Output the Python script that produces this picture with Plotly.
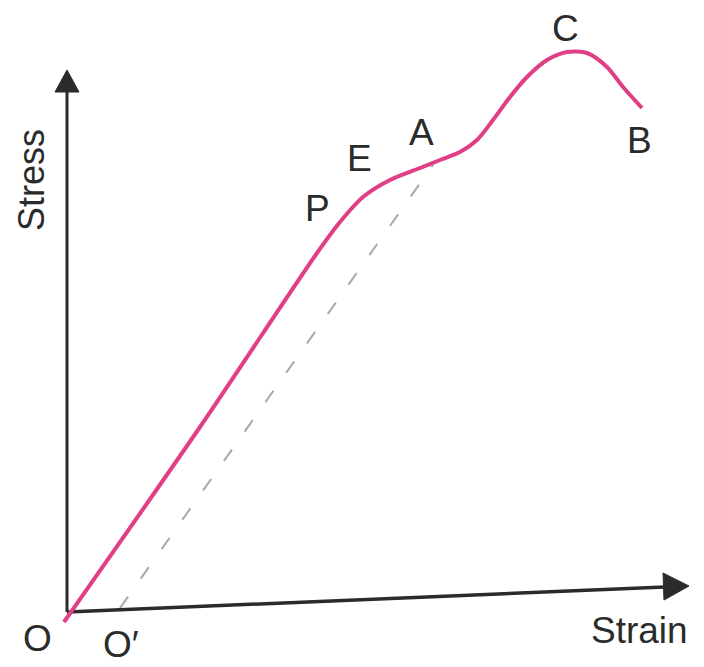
import plotly.graph_objects as go

# Stress-strain curve (arbitrary units, origin at O)
strain = [-3, 133, 250, 273, 296, 323, 353, 373, 393, 410, 426, 443, 460, 480, 500, 520, 540, 556, 575]
stress = [-10, 185, 359, 390, 415, 432, 444, 452, 460, 472, 492, 515, 535, 552, 560, 559, 545, 525, 504]

# Unloading line from A back to O'
unload_strain = [53, 366]
unload_stress = [4, 447]

# Axes
yaxis_x = [0, 0]
yaxis_y = [0, 522]
xaxis_x = [0, 598]
xaxis_y = [0, 25]

# Point labels
label_text = ["O", "O\u2032", "P", "E", "A", "C", "B"]
label_x = [-30, 54, 250, 292, 354, 498, 572]
label_y = [-26, -32, 404, 454, 480, 584, 472]

INK = "#2b2b2b"
PINK = "#e03f86"

fig = go.Figure()

fig.add_trace(go.Scatter(x=unload_strain, y=unload_stress, mode="lines",
                         line=dict(color="#a8a8a8", width=2, dash="14px,22px"),
                         hoverinfo="skip"))
fig.add_trace(go.Scatter(x=yaxis_x, y=yaxis_y, mode="lines",
                         line=dict(color=INK, width=3), hoverinfo="skip"))
fig.add_trace(go.Scatter(x=xaxis_x, y=xaxis_y, mode="lines",
                         line=dict(color=INK, width=3.5), hoverinfo="skip"))
# arrowheads
fig.add_trace(go.Scatter(x=[-12, 12, 0, -12], y=[520, 520, 542, 520], mode="lines",
                         fill="toself", fillcolor=INK, line=dict(color=INK, width=1),
                         hoverinfo="skip"))
fig.add_trace(go.Scatter(x=[596, 597, 622, 596], y=[39, 12, 26, 39], mode="lines",
                         fill="toself", fillcolor=INK, line=dict(color=INK, width=1),
                         hoverinfo="skip"))
fig.add_trace(go.Scatter(x=strain, y=stress, mode="lines",
                         line=dict(color=PINK, width=4, shape="spline", smoothing=0.8),
                         hoverinfo="skip"))

for t, x, y in zip(label_text, label_x, label_y):
    fig.add_annotation(x=x, y=y, text=t, showarrow=False,
                       font=dict(family="Liberation Sans, Arial", size=37, color=INK))

fig.add_annotation(x=572, y=-18, text="Strain", showarrow=False,
                   font=dict(family="Liberation Sans, Arial", size=37, color=INK))
fig.add_annotation(x=-36, y=432, text="Stress", showarrow=False, textangle=-90,
                   font=dict(family="Liberation Sans, Arial", size=36, color=INK))

# the page body adds an 8px offset, so the figure is sized to the remaining viewport
fig.update_layout(width=696, height=659, margin=dict(l=0, r=0, t=0, b=0),
                  paper_bgcolor="white", plot_bgcolor="white", showlegend=False,
                  xaxis=dict(range=[-59, 637], visible=False, fixedrange=True),
                  yaxis=dict(range=[-55, 604], visible=False, fixedrange=True))

fig.write_html("out.html")
